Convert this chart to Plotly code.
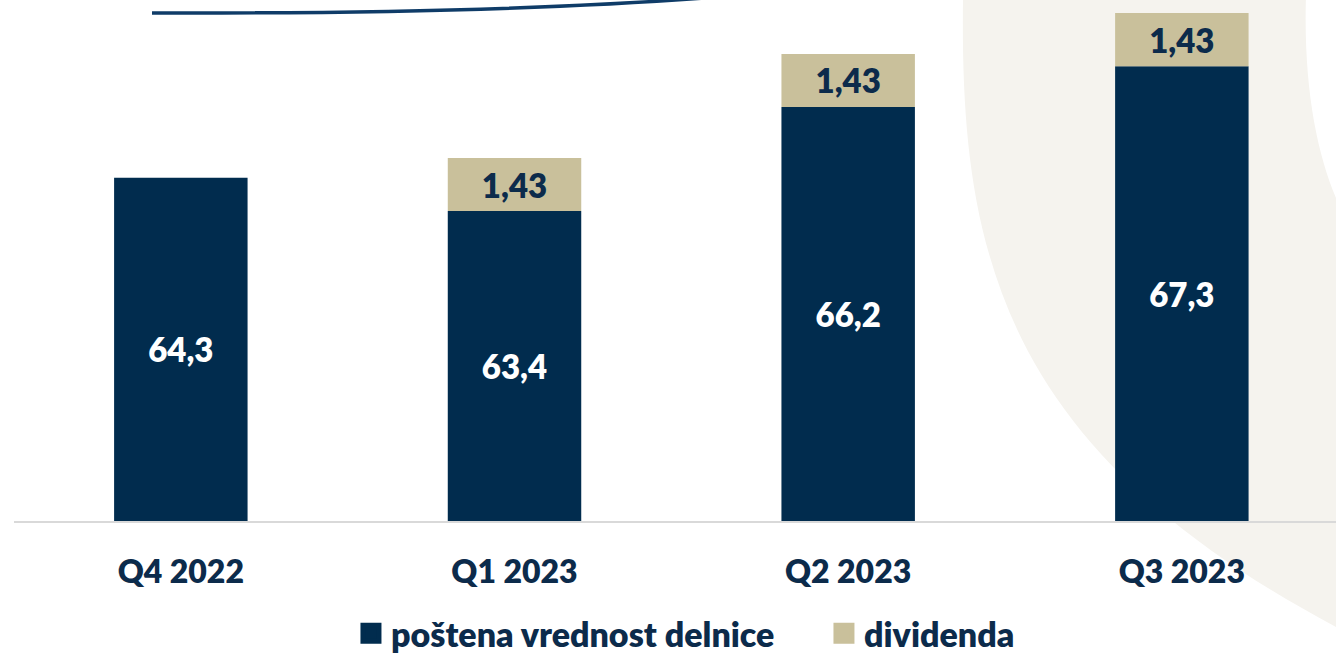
import plotly.graph_objects as go

# ---- data ----
categories = ["Q4 2022", "Q1 2023", "Q2 2023", "Q3 2023"]
fair_value = [64.3, 63.4, 66.2, 67.3]          # poštena vrednost delnice
dividend = [None, 1.43, 1.43, 1.43]            # dividenda
fair_labels = ["64,3", "63,4", "66,2", "67,3"]
div_labels = ["", "1,43", "1,43", "1,43"]
series_names = ["poštena vrednost delnice", "dividenda"]

# ---- style / layout constants ----
NAVY = "#012C4E"
BEIGE = "#C9C09B"
TEXT = "#0C2B4B"
CREAM = "#F5F3EE"
FONT = "Lato"
WEIGHT = 800
Y_MIN, Y_MAX = 55.06, 69.08
W, H = 1336, 654
ML, MR, MT, MB = 14, 0, 0, 133
PW, PH = W - ML - MR, H - MT - MB


def px(x):
    return (x - ML) / PW


def py(y):
    return (MT + PH - y) / PH


def path(points_cmds):
    out = []
    for cmd, pts in points_cmds:
        coords = " ".join(f"{px(a):.5f},{py(b):.5f}" for a, b in pts)
        out.append(f"{cmd} {coords}")
    return " ".join(out) + " Z"


fig = go.Figure()
fig.add_trace(go.Bar(
    x=categories,
    y=[v - Y_MIN for v in fair_value],
    base=[Y_MIN] * len(fair_value),
    name=series_names[0],
    showlegend=False,
    marker=dict(color=NAVY, line=dict(width=0)),
    text=fair_labels,
    textposition="inside",
    insidetextanchor="middle",
    textangle=0,
    textfont=dict(family=FONT, size=33, color="white", weight=WEIGHT),
    width=0.4,
    hoverinfo="skip",
))
fig.add_trace(go.Bar(
    x=categories,
    y=dividend,
    base=fair_value,
    name=series_names[1],
    showlegend=False,
    marker=dict(color=BEIGE, line=dict(width=0)),
    text=div_labels,
    textposition="inside",
    insidetextanchor="middle",
    textangle=0,
    textfont=dict(family=FONT, size=33, color=TEXT, weight=WEIGHT),
    width=0.4,
    hoverinfo="skip",
))
# legend entries (square keys like the original)
for name, col in zip(series_names, [NAVY, BEIGE]):
    fig.add_trace(go.Scatter(
        x=[None], y=[None], mode="markers", name=name,
        marker=dict(symbol="square", size=16, color=col,
                    line=dict(color=col, width=5)),
        hoverinfo="skip",
    ))

# background decoration: cream crescent on the right
cream_path = path([
    ("M", [(963, -5)]),
    ("L", [(963, 0)]),
    ("C", [(960, 250), (1000, 450), (1340, 629)]),
    ("L", [(1340, 207)]),
    ("C", [(1318, 160), (1303, 90), (1306, -5)]),
])
shapes = [
    dict(type="path", xref="paper", yref="paper", path=cream_path,
         fillcolor=CREAM, line=dict(width=0), layer="below"),
    dict(type="path", xref="paper", yref="paper",
         path=f"M {px(152):.5f},{py(13):.5f} C {px(350):.5f},{py(13.5):.5f} "
              f"{px(560):.5f},{py(10):.5f} {px(730):.5f},{py(-4):.5f}",
         line=dict(color="#0F3C68", width=3.5), layer="below"),
]

fig.update_layout(
    width=W, height=H,
    margin=dict(l=ML, r=MR, t=MT, b=MB, pad=0, autoexpand=False),
    paper_bgcolor="white",
    plot_bgcolor="rgba(0,0,0,0)",
    barmode="overlay",
    shapes=shapes,
    font=dict(family=FONT, color=TEXT),
    showlegend=True,
    legend=dict(
        orientation="h", xref="container", yref="container",
        x=0.2627, xanchor="left", y=0.031, yanchor="middle",
        font=dict(family=FONT, size=34, color=TEXT, weight=WEIGHT),
        entrywidth=428, entrywidthmode="pixels",
        bgcolor="rgba(0,0,0,0)", traceorder="normal", itemclick=False,
    ),
    xaxis=dict(
        type="category", range=[-0.5, 3.462],
        showline=True, linecolor="#D9D9D9", linewidth=2,
        showgrid=False, zeroline=False,
        ticks="outside", ticklen=22, tickcolor="rgba(0,0,0,0)",
        tickfont=dict(family=FONT, size=32, color=TEXT, weight=WEIGHT),
        fixedrange=True,
    ),
    yaxis=dict(
        range=[Y_MIN, Y_MAX], visible=False, showgrid=False, zeroline=False,
        fixedrange=True,
    ),
)

fig.write_html(
    "out.html",
    config={"displayModeBar": False},
    post_script="document.body.style.margin='0';document.body.style.overflow='hidden';",
)
